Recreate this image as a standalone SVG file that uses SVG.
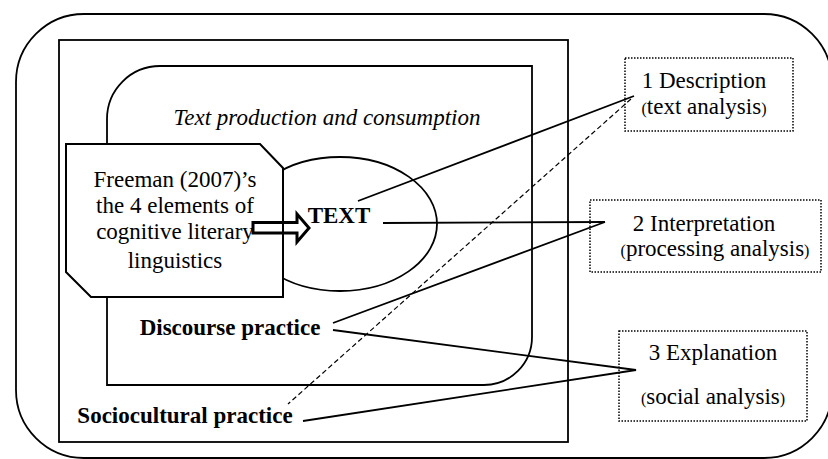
<svg xmlns="http://www.w3.org/2000/svg" width="828" height="459" viewBox="0 0 828 459">
<style>
.ln{stroke:#000;stroke-width:1.8;fill:none}
.t{font-family:"Liberation Serif","Times New Roman",serif;font-size:23px;fill:#000}
.b{font-weight:bold}
.dot{stroke:#000;stroke-width:1.5;fill:none;stroke-dasharray:1.5 1.5}
.sm{font-size:16px}
</style>
<rect width="828" height="459" fill="#fff"/>
<g id="frame">
<rect x="16" y="14" width="816" height="444" rx="68" ry="68" class="ln"/>
</g>
<g id="sociocultural">
<rect x="59" y="40" width="509" height="402" class="ln"/>
<text class="t b" x="185" y="423" text-anchor="middle">Sociocultural practice</text>
</g>
<g id="discourse">
<path d="M107,385 V119 A53,53 0 0 1 160,66 H532 V337 A48,48 0 0 1 484,385 Z" class="ln"/>
<text class="t" x="327" y="125" text-anchor="middle" font-style="italic">Text production and consumption</text>
<text class="t b" x="230" y="335" text-anchor="middle">Discourse practice</text>
</g>
<g id="text">
<ellipse cx="340" cy="224" rx="97" ry="67" fill="#fff" stroke="#000" stroke-width="1.8"/>
<text class="t b" x="339" y="223" text-anchor="middle" font-size="22.5">TEXT</text>
</g>
<g id="freeman">
<path d="M66,144 H260 L283,168 V297 H91 L66,272 Z" fill="#fff" stroke="#000" stroke-width="2"/>
<g class="t" font-size="21.5" text-anchor="middle">
<text x="175" y="187">Freeman (2007)’s</text>
<text x="175" y="213">the 4 elements of</text>
<text x="175" y="239">cognitive literary</text>
<text x="175" y="268">linguistics</text>
</g>
</g>
<g id="arrow">
<path d="M253,222.5 H297 V214 L309,228 L297,242 V233 H253 Z" fill="none" stroke="#000" stroke-width="3" stroke-linejoin="miter"/>
<line x1="283" y1="168" x2="283" y2="297" stroke="#000" stroke-width="2"/>
</g>
<g id="description">
<rect x="625" y="58" width="168" height="73" class="dot"/>
<text class="t" x="704" y="88" text-anchor="middle">1 Description</text>
<text class="t" x="704" y="114" text-anchor="middle"><tspan class="sm">(</tspan>text analysis<tspan class="sm">)</tspan></text>
</g>
<g id="interpretation">
<rect x="590" y="200" width="231" height="72" class="dot"/>
<text class="t" x="704" y="231" text-anchor="middle">2 Interpretation</text>
<text class="t" x="715" y="256" text-anchor="middle"><tspan class="sm">(</tspan>processing analysis<tspan class="sm">)</tspan></text>
</g>
<g id="explanation">
<rect x="619" y="331" width="188" height="90" class="dot"/>
<text class="t" x="713" y="360" text-anchor="middle">3 Explanation</text>
<text class="t" x="713" y="404" text-anchor="middle"><tspan class="sm">(</tspan>social analysis<tspan class="sm">)</tspan></text>
</g>
<g id="connectors" stroke="#000" stroke-width="1.8" fill="none">
<line x1="358" y1="201" x2="634" y2="96"/>
<line x1="631" y1="99" x2="288" y2="404" stroke-width="1.2" stroke-dasharray="5 3"/>
<line x1="383" y1="223" x2="605" y2="222"/>
<polyline points="333,323 605,222"/>
<polyline points="333,330 636,370 303,421"/>
</g>
</svg>
